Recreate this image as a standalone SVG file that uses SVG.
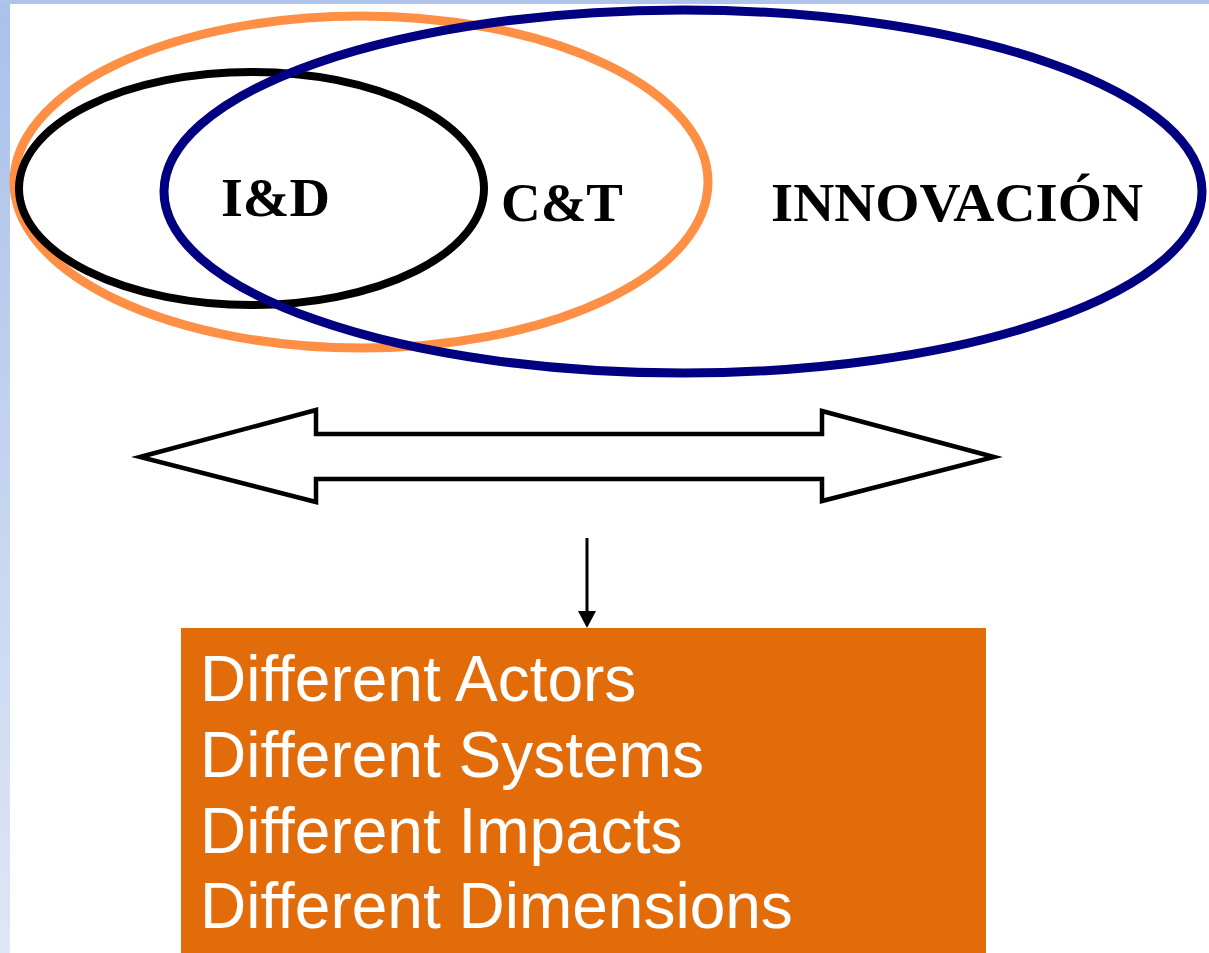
<svg xmlns="http://www.w3.org/2000/svg" width="1209" height="953" viewBox="0 0 1209 953">
  <defs>
    <linearGradient id="sideFade" x1="0" y1="0" x2="0" y2="1">
      <stop offset="0" stop-color="#aac1ea"/>
      <stop offset="1" stop-color="#dfe6f5"/>
    </linearGradient>
    <style>
      .ring { fill: none; }
      .label { font-family: "Liberation Serif", "Times New Roman", serif; font-weight: bold; font-size: 55px; fill: #000; }
      .item { font-family: "Liberation Sans", Arial, sans-serif; font-size: 64px; fill: #fff; }
      .shape { fill: #fff; stroke: #000; stroke-width: 4.5; stroke-linejoin: miter; }
    </style>
  </defs>

  <!-- page background with slide edge bands -->
  <rect x="0" y="0" width="1209" height="953" fill="#fff"/>
  <rect x="0" y="0" width="10" height="953" fill="url(#sideFade)"/>
  <rect x="0" y="0" width="1209" height="4" fill="#aec4ea"/>

  <!-- overlapping concept ellipses -->
  <g id="ct">
    <ellipse class="ring" cx="361" cy="182" rx="347" ry="166" stroke="#ff8f45" stroke-width="9"/>
    <text class="label" x="501" y="221" textLength="122" lengthAdjust="spacingAndGlyphs">C&amp;T</text>
  </g>
  <g id="id">
    <ellipse class="ring" cx="251.5" cy="188.5" rx="232.5" ry="116.5" stroke="#000" stroke-width="8"/>
    <text class="label" x="221" y="216" textLength="109" lengthAdjust="spacingAndGlyphs">I&amp;D</text>
  </g>
  <g id="innovacion">
    <ellipse class="ring" cx="683" cy="191.5" rx="519" ry="181.5" stroke="#000080" stroke-width="9"/>
    <text class="label" x="771" y="221" textLength="372" lengthAdjust="spacingAndGlyphs">INNOVACIÓN</text>
  </g>

  <!-- connectors -->
  <g id="connectors">
    <polygon class="shape" points="140,457 316,410 316,434 822,434 822,411 994,457 822,501 822,479 316,479 316,502"/>
    <line x1="587" y1="538" x2="587" y2="614" stroke="#000" stroke-width="3"/>
    <polygon points="578,611 596,611 587,628" fill="#000"/>
  </g>

  <!-- outcome box -->
  <g id="outcomes">
    <rect x="181" y="628" width="805" height="325" fill="#e36c0a"/>
    <text class="item" x="200" y="701">Different Actors</text>
    <text class="item" x="200" y="777">Different Systems</text>
    <text class="item" x="200" y="853">Different Impacts</text>
    <text class="item" x="200" y="928">Different Dimensions</text>
  </g>
</svg>
